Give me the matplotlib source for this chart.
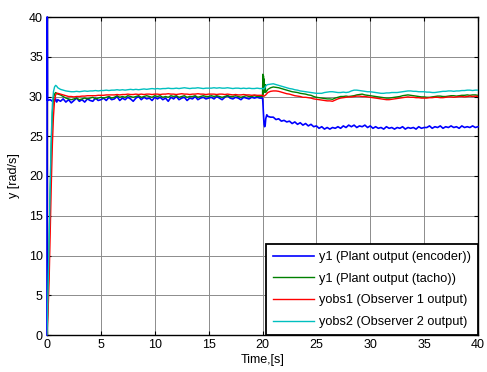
from matplotlib import use
use('Agg')
import matplotlib.pyplot as plt
import numpy as np

plt.rcParams['font.family'] = ['Liberation Sans', 'DejaVu Sans']

# sample times
t_rise = [0, 0.1, 0.2, 0.3, 0.4, 0.5, 0.6, 0.7, 0.8, 0.9, 1.0]
t_rise_enc = [0, 0.01, 0.03, 0.05, 0.3, 0.5, 0.6, 0.7, 0.8, 0.9, 1.0]
t_body1 = np.arange(1.25, 19.8, 0.25)
t_step = [20.0, 20.03, 20.06, 20.09, 20.12, 20.15, 20.2, 20.25, 20.3, 20.4, 20.5, 20.75]
t_body2 = np.arange(21.0, 40.01, 0.25)

# y1 encoder
enc_rise = [0, 40, 40, 29.5, 29.6, 29.4, 29.6, 29.4, 29.7, 29.3, 29.6]
enc_b1 = [29.4, 29.7, 29.3, 29.6, 29.2, 29.5, 29.8, 29.4, 29.6, 29.3, 29.7, 29.5, 29.4, 29.8, 29.5, 29.6,
          29.8, 29.5, 29.9, 29.6, 29.7, 30.0, 29.5, 29.8, 29.6, 29.9, 29.7, 29.4, 29.8, 30.0, 29.6, 29.9, 29.7, 29.8, 29.5, 29.9,
          29.7, 29.9, 29.6, 29.8, 29.4, 29.9, 29.7, 30.0, 29.6, 29.8, 29.9, 29.5, 29.8, 29.7, 30.0, 29.6, 29.8, 29.9, 29.7, 29.8,
          29.9, 29.7, 30.0, 29.8, 29.6, 29.9, 30.1, 29.8, 29.7, 29.9, 29.8, 29.6, 29.9, 29.8, 29.7, 29.9, 29.8, 29.9, 29.8]
enc_step = [29.8, 29.4, 28.6, 27.7, 27.0, 26.5, 26.2, 26.4, 27.2, 27.7, 27.5, 27.4]
enc_b2 = [27.4, 27.1, 27.2, 26.9, 27.0, 26.8, 26.9, 26.6, 26.8, 26.5, 26.7, 26.4, 26.6, 26.3, 26.5, 26.2, 26.3,
          26.0, 26.2, 25.9, 26.1, 25.9, 26.1, 26.0, 26.2, 26.0, 26.3, 26.1, 26.4, 26.2, 26.4, 26.1, 26.3, 26.2, 26.4, 26.1, 26.3,
          26.0, 26.2, 26.0, 26.1, 25.9, 26.2, 26.0, 26.1, 25.9, 26.1, 26.0, 26.2, 25.9, 26.1, 26.0, 26.1, 25.9, 26.2, 26.0, 26.1,
          26.1, 26.3, 26.0, 26.2, 26.1, 26.3, 26.0, 26.2, 26.1, 26.3, 26.1, 26.2, 26.0, 26.3, 26.1, 26.2, 26.1, 26.3, 26.1, 26.2]

# y1 tacho
tach_rise = [0, 5, 11, 18, 24, 28, 29.8, 30.3, 30.5, 30.4, 30.3]
tach_b1 = [30.2, 30.0, 29.8, 29.7, 29.6, 29.7, 29.8, 29.6, 29.7, 29.8, 29.7, 29.8, 29.9, 29.7, 29.8, 29.9,
           29.8, 29.9, 30.0, 29.8, 29.9, 30.1, 29.9, 30.0, 29.9, 30.1, 30.0, 29.9, 30.0, 30.1, 29.9, 30.0, 30.1, 30.0, 29.9, 30.1,
           30.0, 30.1, 29.9, 30.0, 29.9, 30.1, 30.0, 30.1, 29.9, 30.0, 30.1, 29.9, 30.0, 30.0, 30.1, 29.9, 30.0, 30.1, 30.0, 30.0,
           30.1, 30.0, 30.1, 30.0, 29.9, 30.0, 30.1, 30.0, 30.0, 30.1, 30.0, 29.9, 30.0, 30.1, 30.0, 30.0, 30.1, 30.0, 30.0]
tach_step = [30.0, 32.8, 30.3, 32.6, 30.5, 32.2, 30.6, 31.5, 30.5, 30.7, 30.9, 31.1]
tach_b2 = [31.2, 31.15, 31.1, 31.0, 30.9, 30.8, 30.7, 30.6, 30.55, 30.5, 30.4, 30.35, 30.3, 30.2, 30.15, 30.0, 29.9,
           29.85, 29.8, 29.75, 29.7, 29.7, 29.65, 29.8, 29.9, 30.0, 30.0, 30.05, 30.0, 30.05, 30.1, 30.2, 30.25, 30.3, 30.2, 30.15, 30.1,
           30.05, 30.0, 29.95, 29.9, 29.85, 29.8, 29.8, 29.85, 29.9, 29.95, 30.0, 30.1, 30.15, 30.2, 30.15, 30.1, 30.05, 30.0, 29.95, 29.95,
           29.9, 29.9, 29.95, 30.0, 30.05, 30.05, 30.0, 30.0, 30.05, 30.1, 30.1, 30.05, 30.1, 30.15, 30.15, 30.2, 30.15, 30.2, 30.2, 30.15]

# yobs1
obs1_rise = [0, 3, 7, 13, 19, 24, 27.5, 29.5, 30.2, 30.4, 30.4]
obs1_b1 = [30.3, 30.2, 30.1, 30.0, 30.0, 29.95, 30.0, 30.0, 30.05, 30.05, 30.1, 30.1, 30.1, 30.1, 30.15, 30.15,
           30.15, 30.2, 30.2, 30.2, 30.2, 30.25, 30.2, 30.25, 30.25, 30.3, 30.25, 30.25, 30.3, 30.25, 30.3, 30.25, 30.3, 30.3, 30.25, 30.3,
           30.3, 30.25, 30.3, 30.3, 30.35, 30.3, 30.3, 30.25, 30.3, 30.35, 30.3, 30.3, 30.25, 30.3, 30.3, 30.35, 30.3, 30.3, 30.25, 30.3,
           30.3, 30.3, 30.25, 30.3, 30.3, 30.25, 30.3, 30.25, 30.2, 30.25, 30.2, 30.2, 30.25, 30.2, 30.2, 30.15, 30.2, 30.15, 30.15]
obs1_step = [30.15, 30.1, 30.05, 30.05, 30.05, 30.05, 30.1, 30.15, 30.2, 30.35, 30.5, 30.65]
obs1_b2 = [30.7, 30.7, 30.65, 30.55, 30.45, 30.35, 30.3, 30.2, 30.1, 30.05, 30.0, 29.9, 29.9, 29.85, 29.8, 29.7, 29.65,
           29.6, 29.55, 29.5, 29.45, 29.45, 29.4, 29.55, 29.7, 29.8, 29.85, 29.9, 29.95, 29.95, 30.0, 30.05, 30.05, 30.0, 30.0, 29.95, 29.9,
           29.85, 29.8, 29.75, 29.7, 29.65, 29.6, 29.6, 29.65, 29.7, 29.75, 29.8, 29.85, 29.9, 29.95, 29.9, 29.9, 29.85, 29.85, 29.8, 29.8,
           29.8, 29.85, 29.85, 29.9, 29.9, 29.85, 29.85, 29.9, 29.95, 29.95, 29.9, 29.95, 30.0, 30.0, 29.95, 30.0, 30.05, 30.0, 30.05, 30.0]

# yobs2
obs2_rise = [0, 6, 12, 19, 25, 29, 30.6, 31.2, 31.4, 31.3, 31.1]
obs2_b1 = [30.9, 30.8, 30.7, 30.65, 30.6, 30.6, 30.65, 30.6, 30.65, 30.7, 30.65, 30.7, 30.7, 30.75, 30.7, 30.75,
           30.75, 30.8, 30.75, 30.8, 30.8, 30.85, 30.8, 30.85, 30.8, 30.85, 30.9, 30.85, 30.9, 30.85, 30.9, 30.95, 30.9, 30.95, 31.0, 30.95,
           31.0, 30.95, 31.0, 31.0, 31.05, 31.0, 31.0, 31.05, 31.0, 31.05, 31.1, 31.05, 31.0, 31.05, 31.05, 31.1, 31.05, 31.0, 31.05, 31.05,
           31.05, 31.1, 31.05, 31.1, 31.05, 31.05, 31.1, 31.05, 31.0, 31.05, 31.05, 31.0, 31.05, 31.0, 31.05, 31.0, 31.0, 31.05, 31.0]
obs2_step = [31.0, 31.0, 30.95, 30.95, 30.95, 31.0, 31.1, 31.2, 31.3, 31.45, 31.5, 31.55]
obs2_b2 = [31.6, 31.5, 31.4, 31.3, 31.2, 31.1, 31.0, 30.95, 30.85, 30.8, 30.7, 30.65, 30.6, 30.55, 30.5, 30.45, 30.4,
           30.4, 30.4, 30.5, 30.55, 30.6, 30.6, 30.55, 30.5, 30.5, 30.55, 30.5, 30.55, 30.7, 30.8, 30.8, 30.75, 30.7, 30.65, 30.6, 30.6,
           30.55, 30.5, 30.45, 30.4, 30.4, 30.45, 30.45, 30.5, 30.5, 30.5, 30.55, 30.6, 30.65, 30.7, 30.7, 30.65, 30.65, 30.6, 30.6, 30.6,
           30.55, 30.55, 30.5, 30.5, 30.55, 30.6, 30.65, 30.65, 30.7, 30.7, 30.65, 30.7, 30.7, 30.75, 30.75, 30.8, 30.8, 30.75, 30.8, 30.8]

labels = ['y1 (Plant output (encoder))', 'y1 (Plant output (tacho))',
          'yobs1 (Observer 1 output)', 'yobs2 (Observer 2 output)']
colors = ['#0000ff', '#008000', '#ff0000', '#00bfbf']

t = np.concatenate([t_rise, t_body1, t_step, t_body2])
t_enc = np.concatenate([t_rise_enc, t_body1, t_step, t_body2])
times = [t_enc, t, t, t]
series = [
    np.concatenate([enc_rise, enc_b1, enc_step, enc_b2]),
    np.concatenate([tach_rise, tach_b1, tach_step, tach_b2]),
    np.concatenate([obs1_rise, obs1_b1, obs1_step, obs1_b2]),
    np.concatenate([obs2_rise, obs2_b1, obs2_step, obs2_b2]),
]

fig = plt.figure(figsize=(4.87, 3.72), dpi=100)
ax = fig.add_axes([47/487, 37/372, 431/487, 318/372])

for i, (x, y, c, lab) in enumerate(zip(times, series, colors, labels)):
    ax.plot(x, y, color=c, lw=1.2 if i == 0 else 1.0, label=lab, zorder=3,
            clip_on=(i != 0))

ax.set_xlim(0, 40)
ax.set_ylim(0, 40)
ax.set_xticks(range(0, 41, 5))
ax.set_yticks(range(0, 41, 5))
ax.grid(True, color='#8c8c8c', lw=0.7)
ax.set_axisbelow(True)
ax.tick_params(direction='in', top=True, right=True, length=3, labelsize=9, pad=3)
for s in ax.spines.values():
    s.set_linewidth(1.0)
    s.set_zorder(2.5)

ax.set_xlabel('Time,[s]', fontsize=9, labelpad=2)
ax.set_ylabel('y [rad/s]', fontsize=9, labelpad=6)

leg = ax.legend(loc='lower right', fontsize=9.2, borderaxespad=0, fancybox=False,
                framealpha=1, edgecolor='black', handlelength=3.2, handletextpad=0.4,
                labelspacing=0.75, borderpad=0.55)
leg.get_frame().set_linewidth(1.3)
leg.set_zorder(5)

fig.savefig('out.png', dpi=100)
